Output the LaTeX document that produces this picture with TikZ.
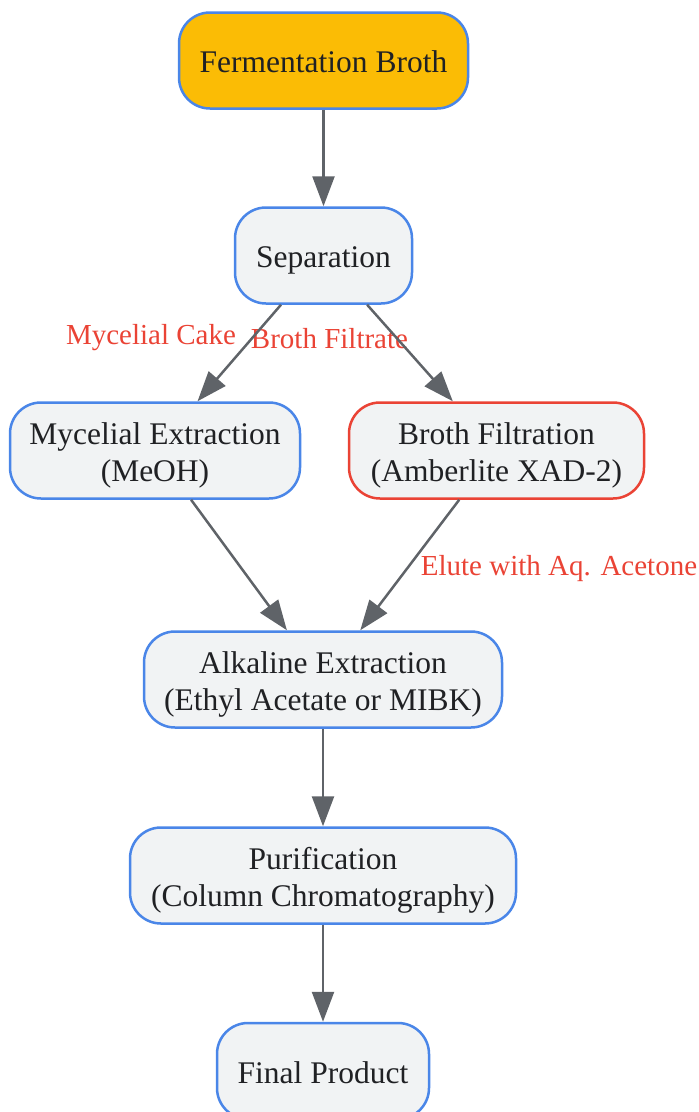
\documentclass[tikz,border=0pt]{standalone}
\usepackage{fontspec}
\setmainfont{Liberation Serif}
\usetikzlibrary{arrows.meta}

\definecolor{boxfill}{HTML}{F1F3F4}
\definecolor{boxblue}{HTML}{4A86E8}
\definecolor{boxred}{HTML}{EA4335}
\definecolor{brothyellow}{HTML}{FBBC05}
\definecolor{flowgray}{HTML}{5F6368}
\definecolor{inkgray}{HTML}{202124}

\newcommand{\topstrut}{\rule{0pt}{31pt}}

\tikzset{
  procbox/.style={draw=boxblue, fill=boxfill, line width=2.5pt, rounded corners=31pt,
    minimum height=96pt, align=center, text=inkgray, inner sep=0pt,
    font=\fontsize{31.5}{37}\selectfont},
  oneline/.style={text height=24pt, text depth=0pt},
  flow/.style={draw=flowgray, line width=2.5pt, -{Triangle[length=30pt,width=22pt]}},
  elabel/.style={text=boxred, inner sep=0pt, font=\fontsize{29}{34}\selectfont}
}

\begin{document}
\begin{tikzpicture}[x=1pt,y=-1pt]
    \useasboundingbox (0,0) rectangle (699,1112);
    \node[procbox, oneline, fill=brothyellow, minimum width=289pt] (broth) at (323.5,60.5) {Fermentation Broth};
    \node[procbox, oneline, minimum width=177pt] (sep) at (323.5,255.5) {Separation};
    \node[procbox, minimum width=290pt] (myc) at (155,450.5) {\topstrut Mycelial Extraction\\(MeOH)};
    \node[procbox, draw=boxred, minimum width=295pt] (filt) at (496.5,450.5) {\topstrut Broth Filtration\\(Amberlite XAD-2)};
    \node[procbox, minimum width=358pt] (alk) at (323,679.5) {\topstrut Alkaline Extraction\\(Ethyl Acetate or MIBK)};
    \node[procbox, minimum width=386pt] (pur) at (323,875.5) {\topstrut Purification\\(Column Chromatography)};
    \node[procbox, oneline, minimum width=212pt] (fin) at (323,1071) {Final Product};
    % edge labels
    \node[elabel] (lcake) at (151,338) {Mycelial Cake};
    \node[elabel] (lfiltrate) at (329.5,339) {Broth Filtrate};
    \node[elabel] (lelute) at (559,569) {Elute with Aq. Acetone};
    \draw[flow] (broth) -- (sep);
    \draw[flow] (sep) -- (myc);
    \draw[flow] (sep) -- (filt);
    \draw[flow] (myc) -- (alk);
    \draw[flow] (filt) -- (alk);
    \draw[flow] (alk) -- (pur);
    \draw[flow] (pur) -- (fin);
\end{tikzpicture}
\end{document}
